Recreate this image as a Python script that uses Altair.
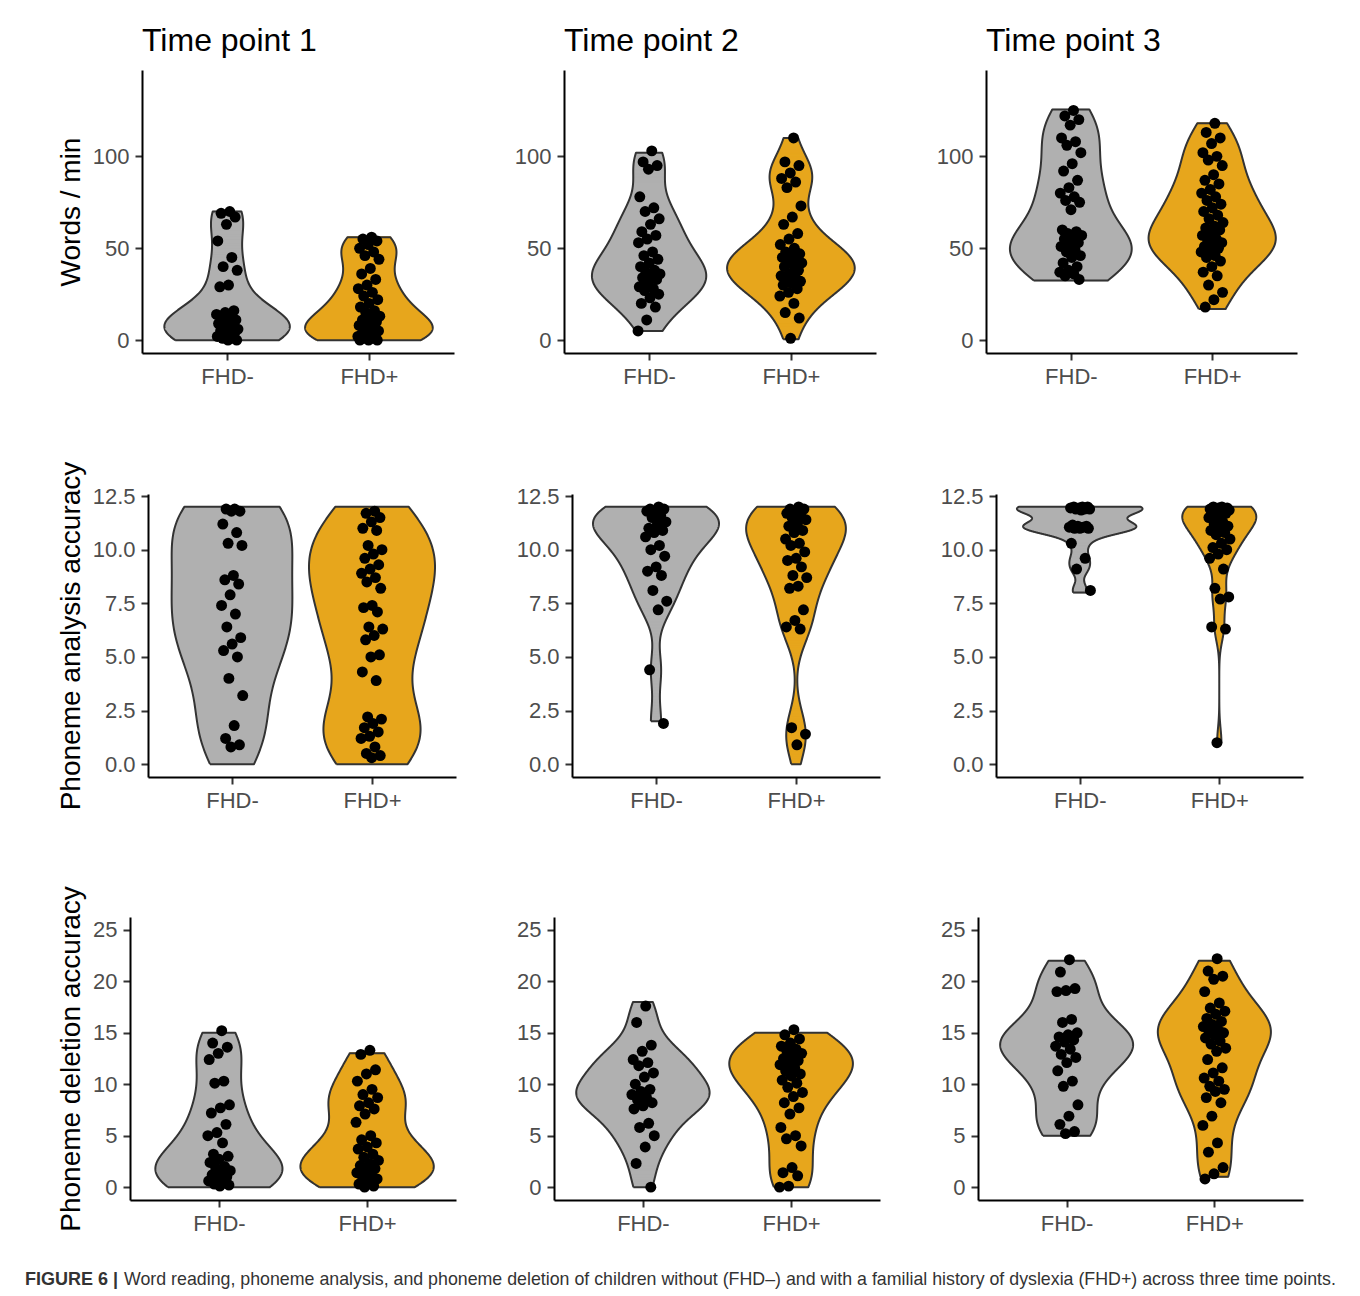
import altair as alt
import numpy as np
import pandas as pd

# ---------------- data ----------------
groups = ["FHD-", "FHD+"]
fills = ["#B0B0B0", "#E7A61D"]
times = ["Time point 1", "Time point 2", "Time point 3"]
measures = ["Words / min", "Phoneme analysis accuracy", "Phoneme deletion accuracy"]

# Word reading (words / min)
wr_t1_neg = [70, 69, 67, 63, 54, 45, 40, 38, 30, 29, 16, 15, 14, 13, 12, 11, 10, 9, 8, 7, 6, 6, 5, 4,
             3, 2, 1, 1, 0, 0]
wr_t1_pos = [56, 55, 54, 52, 50, 48, 46, 44, 39, 36, 33, 30, 28, 26, 24, 22, 20, 18, 16, 15, 13, 12,
             11, 10, 9, 8, 7, 6, 5, 4, 3, 3, 2, 2, 1, 1, 0, 0, 0]
wr_t2_neg = [103, 97, 95, 93, 78, 72, 70, 66, 63, 59, 57, 55, 53, 48, 46, 44, 42, 40, 38, 37, 36, 35,
             34, 33, 31, 29, 28, 27, 25, 23, 20, 18, 11, 5]
wr_t2_pos = [110, 97, 95, 91, 88, 86, 83, 73, 67, 63, 58, 55, 52, 50, 48, 47, 46, 45, 44, 43, 42, 41,
             40, 38, 36, 35, 34, 33, 32, 31, 30, 28, 26, 24, 20, 15, 12, 1]
wr_t3_neg = [125, 122, 120, 117, 110, 108, 106, 102, 96, 92, 87, 83, 80, 78, 76, 75, 71, 60, 59, 58,
             57, 56, 55, 53, 52, 51, 49, 48, 46, 45, 42, 40, 38, 37, 36, 35, 33]
wr_t3_pos = [118, 113, 110, 107, 102, 100, 98, 95, 90, 87, 85, 82, 80, 78, 76, 74, 72, 70, 68, 66, 64,
             62, 61, 60, 58, 57, 55, 54, 53, 52, 51, 50, 49, 48, 46, 45, 43, 40, 37, 35, 30, 26, 22, 18]

# Phoneme analysis accuracy
pa_t1_neg = [11.9, 11.9, 11.8, 11.8, 11.2, 10.8, 10.3, 10.2, 8.8, 8.6, 8.4, 7.9, 7.4, 7.0, 6.4, 5.9,
             5.6, 5.3, 5.0, 4.0, 3.2, 1.8, 1.2, 0.9, 0.8]
pa_t1_pos = [11.8, 11.7, 11.5, 11.3, 11.0, 10.9, 10.2, 10.0, 9.8, 9.6, 9.3, 9.1, 8.9, 8.7, 8.5, 8.2,
             7.4, 7.3, 7.1, 6.4, 6.3, 6.0, 5.8, 5.1, 5.0, 4.3, 3.9, 2.2, 2.1, 1.9, 1.7, 1.5, 1.3, 1.2,
             0.8, 0.5, 0.4, 0.3]
pa_t2_neg = [12.0, 11.9, 11.9, 11.8, 11.8, 11.6, 11.5, 11.3, 11.2, 11.0, 10.9, 10.8, 10.6, 10.2, 10.0,
             9.7, 9.2, 9.0, 8.8, 8.1, 7.6, 7.2, 4.4, 1.9]
pa_t2_pos = [12.0, 11.9, 11.9, 11.8, 11.7, 11.6, 11.5, 11.4, 11.2, 11.1, 10.9, 10.8, 10.5, 10.3, 10.2,
             9.9, 9.6, 9.5, 9.2, 8.8, 8.7, 8.3, 8.2, 7.2, 6.7, 6.4, 6.3, 1.7, 1.4, 0.9]
pa_t3_neg = [12.0, 12.0, 12.0, 11.95, 11.95, 11.9, 11.9, 11.9, 11.85, 11.15, 11.1, 11.1, 11.05, 11.05,
             11.0, 11.0, 11.0, 10.3, 9.6, 9.1, 8.1]
pa_t3_pos = [12.0, 12.0, 11.95, 11.95, 11.9, 11.9, 11.9, 11.85, 11.8, 11.8, 11.7, 11.6, 11.5, 11.3,
             11.2, 11.1, 11.0, 10.9, 10.8, 10.7, 10.5, 10.3, 10.1, 10.0, 9.8, 9.6, 9.1, 8.2, 7.8, 7.7,
             6.4, 6.3, 1.0]

# Phoneme deletion accuracy
pd_t1_neg = [15.2, 14.0, 13.6, 13.0, 12.4, 10.3, 10.1, 8.0, 7.7, 7.2, 6.1, 5.3, 5.0, 4.3, 3.2, 3.0,
             2.7, 2.4, 2.0, 1.9, 1.6, 1.5, 1.2, 1.0, 0.8, 0.6, 0.4, 0.3, 0.2, 0.1]
pd_t1_pos = [13.3, 12.9, 11.4, 11.0, 10.3, 9.5, 9.0, 8.7, 8.2, 7.9, 7.6, 7.1, 6.3, 5.0, 4.6, 4.3, 3.9,
             3.7, 3.2, 2.9, 2.6, 2.3, 2.1, 1.8, 1.6, 1.4, 1.2, 1.0, 0.8, 0.5, 0.3, 0.1, 0.0]
pd_t2_neg = [17.6, 16.0, 13.8, 13.2, 12.4, 12.1, 11.8, 11.1, 10.7, 10.0, 9.5, 9.3, 9.0, 8.7, 8.5, 8.2,
             7.9, 7.6, 6.2, 5.8, 5.0, 3.9, 2.3, 0.0]
pd_t2_pos = [15.3, 14.8, 14.4, 14.0, 13.7, 13.4, 13.2, 13.0, 12.7, 12.5, 12.3, 12.1, 11.9, 11.6, 11.3,
             11.0, 10.8, 10.4, 10.1, 9.7, 9.2, 8.8, 8.2, 7.7, 7.1, 5.8, 5.0, 4.7, 4.0, 1.9, 1.4, 1.1,
             0.1, 0.0]
pd_t3_neg = [22.1, 20.9, 19.3, 19.1, 19.0, 16.3, 16.0, 15.0, 14.8, 14.6, 14.3, 14.1, 13.7, 13.4, 12.9,
             12.6, 12.1, 11.3, 10.3, 9.8, 8.0, 6.9, 6.1, 5.4, 5.2]
pd_t3_pos = [22.2, 21.0, 20.5, 20.2, 19.0, 17.9, 17.4, 17.1, 16.8, 16.4, 16.1, 15.8, 15.6, 15.3, 15.1,
             15.0, 14.8, 14.5, 14.2, 13.9, 13.5, 13.2, 12.4, 11.6, 11.1, 10.6, 10.3, 9.8, 9.5, 9.3,
             8.7, 8.2, 6.9, 6.0, 4.3, 3.4, 1.9, 1.3, 0.8]

# observed score ranges (violins are trimmed to these), order: t1-, t1+, t2-, t2+, t3-, t3+
wr_range = [(0, 70), (0, 56), (5, 102), (0.5, 110), (32.5, 125.5), (17, 118)]
pa_range = [(0, 12), (0, 12), (2, 12), (0, 12), (8, 12), (1, 12)]
pd_range = [(0, 15), (0, 13), (0, 18), (0, 15), (5, 22), (1, 22)]

# y-axis ticks per measure
wr_ticks = [0, 50, 100]
pa_ticks = [0, 2.5, 5, 7.5, 10, 12.5]
pd_ticks = [0, 5, 10, 15, 20, 25]

caption_bold = "FIGURE 6 |"
caption_text = ("Word reading, phoneme analysis, and phoneme deletion of children without (FHD\u2013) "
                "and with a familial history of dyslexia (FHD+) across three time points.")

# ---------------- build tables ----------------
series = {
    0: [wr_t1_neg, wr_t1_pos, wr_t2_neg, wr_t2_pos, wr_t3_neg, wr_t3_pos],
    1: [pa_t1_neg, pa_t1_pos, pa_t2_neg, pa_t2_pos, pa_t3_neg, pa_t3_pos],
    2: [pd_t1_neg, pd_t1_pos, pd_t2_neg, pd_t2_pos, pd_t3_neg, pd_t3_pos],
}
ranges = {0: wr_range, 1: pa_range, 2: pd_range}


def bw_nrd0(x):
    x = np.asarray(x, float)
    sd = x.std(ddof=1)
    q75, q25 = np.percentile(x, [75, 25])
    lo = min(sd, (q75 - q25) / 1.34)
    if lo <= 0:
        lo = sd if sd > 0 else 1.0
    return 0.9 * lo * len(x) ** -0.2


def kde(x, lo, hi, n=512):
    x = np.asarray(x, float)
    grid = np.linspace(lo, hi, n)
    bw = bw_nrd0(x)
    d = np.exp(-0.5 * ((grid[:, None] - x[None, :]) / bw) ** 2).sum(1) / (len(x) * bw * np.sqrt(2 * np.pi))
    return grid, d


vrows, orows, prows = [], [], []
for m in range(3):
    for t in range(3):
        key = f"{m}-{t}"
        dens = []
        for gi in range(2):
            vals = series[m][2 * t + gi]
            lo, hi = ranges[m][2 * t + gi]
            grid, d = kde(vals, lo, hi)
            dens.append((grid, d))
            for v in vals:
                prows.append({"key": key, "grp": groups[gi], "g": gi + 1, "v": v})
        dmax = max(d.max() for _, d in dens)
        for gi, (grid, d) in enumerate(dens):
            w = 0.45 * d / dmax
            left = gi + 1 - w
            right = gi + 1 + w
            for k in range(len(grid)):
                vrows.append({"key": key, "grp": groups[gi], "y": float(grid[k]),
                              "lo": float(left[k]), "hi": float(right[k])})
            # closed outline: up the left side, down the right side, back to start
            path = [(left[k], grid[k]) for k in range(len(grid))]
            path += [(right[k], grid[k]) for k in range(len(grid) - 1, -1, -1)]
            path.append((left[0], grid[0]))
            for j, (ox, oy) in enumerate(path):
                orows.append({"key": key, "grp": groups[gi], "ok": j, "ox": float(ox), "oy": float(oy)})

vdf = pd.DataFrame(vrows)
odf = pd.DataFrame(orows)
pdf = pd.DataFrame(prows)

FONT = "Liberation Sans"
y_domains = [[-7, 147], [-0.6, 12.6], [-1.25, 26.25]]
y_ticks = [wr_ticks, pa_ticks, pd_ticks]
y_formats = ["d", ".1f", "d"]
widths = [[312, 312, 311], [308, 308, 307], [326, 326, 325]]
H = 283


def panel(m, t):
    key = f"{m}-{t}"
    xscale = alt.Scale(domain=[0.4, 2.6], nice=False, zero=False)
    yscale = alt.Scale(domain=y_domains[m], nice=False, zero=False)
    xaxis = alt.Axis(values=[1, 2], labelExpr="datum.value == 1 ? 'FHD-' : 'FHD+'", title=None,
                     grid=False, labelFlush=False)
    yaxis = alt.Axis(values=y_ticks[m], format=y_formats[m], grid=False, labelFlush=False,
                     title=measures[m] if t == 0 else None)
    layers = []
    for gi in range(2):
        gname = groups[gi]
        # violin body: dense horizontal slices of the density
        layers.append(
            alt.Chart(vdf).transform_filter(
                (alt.datum.key == key) & (alt.datum.grp == gname)
            ).mark_rule(color=fills[gi], strokeWidth=1.6, opacity=1).encode(
                y=alt.Y("y:Q", scale=yscale, axis=yaxis),
                x=alt.X("lo:Q", scale=xscale, axis=xaxis),
                x2="hi:Q",
            )
        )
        # violin outline
        layers.append(
            alt.Chart(odf).transform_filter(
                (alt.datum.key == key) & (alt.datum.grp == gname)
            ).mark_line(color="#333333", strokeWidth=2, strokeJoin="round").encode(
                x=alt.X("ox:Q", scale=xscale, axis=xaxis),
                y=alt.Y("oy:Q", scale=yscale, axis=yaxis),
                order=alt.Order("ok:Q"),
            )
        )
    pts = alt.Chart(pdf).transform_filter(alt.datum.key == key).transform_window(
        i="row_number()", groupby=["grp"]
    ).transform_calculate(
        xj="datum.g + (((datum.i * 0.6180339887) % 1) - 0.5) * 0.16"
    ).mark_circle(size=120, color="black", opacity=1).encode(
        x=alt.X("xj:Q", scale=xscale, axis=xaxis),
        y=alt.Y("v:Q", scale=yscale, axis=yaxis),
    )
    ch = alt.layer(*layers, pts).properties(width=widths[m][t], height=H)
    if m == 0:
        ch = ch.properties(title=alt.TitleParams(
            text=times[t], anchor="start", frame="group", baseline="bottom", offset=-20,
            fontSize=32, fontWeight="normal", font=FONT, color="black"))
    return ch


def spacer():
    return alt.Chart(pd.DataFrame({"s": [0]})).mark_point(size=0, opacity=0).encode(
        x=alt.value(0), y=alt.value(0)
    ).properties(width=1, height=1)


rows = [
    alt.hconcat(alt.hconcat(spacer(), panel(m, 0), spacing=0), panel(m, 1), panel(m, 2), spacing=60)
    for m in range(3)
]
grid = alt.vconcat(*rows, spacing=74)

cap_df = pd.DataFrame({"b": [caption_bold], "t": [caption_text]})
cap_b = alt.Chart(cap_df).mark_text(
    align="left", baseline="alphabetic", font=FONT, fontSize=18, fontWeight="bold", color="#333333"
).encode(text="b:N", x=alt.value(-31), y=alt.value(16))
cap_t = alt.Chart(cap_df).mark_text(
    align="left", baseline="alphabetic", font=FONT, fontSize=17.8, color="#333333"
).encode(text="t:N", x=alt.value(68), y=alt.value(16))
caption = alt.layer(cap_b, cap_t).properties(width=1200, height=18)

chart = alt.vconcat(grid, caption, spacing=35).properties(
    padding={"left": 17, "top": 17, "right": 5, "bottom": 0}
).configure_view(stroke=None).configure_axis(
    domainColor="black", domainWidth=2, tickColor="#333333", tickWidth=2, tickSize=7,
    labelFont=FONT, labelFontSize=22, labelColor="#4D4D4D", labelPadding=6,
    titleFont=FONT, titleFontSize=28, titleColor="black", titleFontWeight="normal", titlePadding=7,
).configure_title(font=FONT)

chart.save("out.html", embed_options={"renderer": "svg", "actions": False})
